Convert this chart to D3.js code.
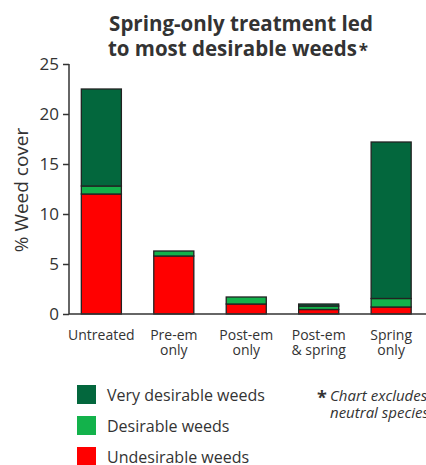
<!DOCTYPE html>
<html>
<head>
<meta charset="utf-8">
<script src="https://cdn.jsdelivr.net/npm/d3@7"></script>
<style>
  body { margin: 0; background: #fff; }
  text { font-family: "Open Sans", sans-serif; fill: #333; }
</style>
</head>
<body>
<div id="chart"></div>
<script>
const width = 426, height = 465;

// data
const categories = ["Untreated", "Pre-em\nonly", "Post-em\nonly", "Post-em\n& spring", "Spring\nonly"];
const undesirable = [12.0, 5.8, 1.0, 0.45, 0.7];
const desirable = [0.8, 0.5, 0.7, 0.35, 0.85];
const veryDesirable = [9.7, 0, 0, 0.2, 15.65];
const yTicks = [0, 5, 10, 15, 20, 25];
const seriesNames = ["Very desirable weeds", "Desirable weeds", "Undesirable weeds"];
const seriesColors = ["#03673d", "#13b24b", "#ff0000"];

const rows = categories.map((c, i) => ({
  cat: c, undesirable: undesirable[i], desirable: desirable[i], very: veryDesirable[i]
}));

const svg = d3.select("#chart").append("svg")
  .attr("width", width)
  .attr("height", height);

const x = d3.scaleBand()
  .domain(categories)
  .range([69, 423.5])
  .paddingInner(0.447)
  .paddingOuter(0.17);

const y = d3.scaleLinear()
  .domain([0, 25])
  .range([314, 64]);

// title
svg.append("text")
  .attr("x", 241)
  .attr("y", 31)
  .attr("text-anchor", "middle")
  .style("font-weight", "bold")
  .style("font-size", "20.5px")
  .text("Spring-only treatment led");
const t2 = svg.append("text")
  .attr("x", 238)
  .attr("y", 56)
  .attr("text-anchor", "middle")
  .style("font-weight", "bold")
  .style("font-size", "20.5px");
t2.append("tspan").text("to most desirable weeds");
t2.append("tspan").style("font-size", "17px").attr("dx", 2).attr("dy", 1).text("*");

// stacked bars
const stack = d3.stack().keys(["undesirable", "desirable", "very"]);
const layers = stack(rows);
const colorOf = { undesirable: "#ff0000", desirable: "#13b24b", very: "#03673d" };

svg.append("g")
  .selectAll("g")
  .data(layers)
  .join("g")
  .attr("fill", d => colorOf[d.key])
  .selectAll("rect")
  .data(d => d.filter(s => s[1] - s[0] > 0))
  .join("rect")
  .attr("x", d => x(d.data.cat))
  .attr("y", d => y(d[1]))
  .attr("width", x.bandwidth())
  .attr("height", d => y(d[0]) - y(d[1]))
  .attr("stroke", "#222")
  .attr("stroke-width", 1.3);

// y axis
const yAxis = svg.append("g")
  .attr("transform", "translate(69,0)")
  .call(d3.axisLeft(y).tickValues(yTicks).tickSize(6).tickPadding(4));
yAxis.select(".domain").attr("stroke", "#333").attr("stroke-width", 1.5).attr("d", "M0,64V314");
yAxis.selectAll(".tick line").attr("stroke", "#333").attr("stroke-width", 1.5);
yAxis.selectAll(".tick text")
  .style("font-size", "17px")
  .style("fill", "#333")
  .style("font-family", "'Open Sans', sans-serif");

// x axis baseline
svg.append("line")
  .attr("x1", 69).attr("x2", width)
  .attr("y1", y(0)).attr("y2", y(0))
  .attr("stroke", "#333")
  .attr("stroke-width", 1.5);

// category labels
svg.append("g")
  .selectAll("text")
  .data(categories)
  .join("text")
  .attr("text-anchor", "middle")
  .attr("x", d => x(d) + x.bandwidth() / 2)
  .attr("y", 340)
  .style("font-size", "14px")
  .each(function(d) {
    const lines = d.split("\n");
    d3.select(this).selectAll("tspan")
      .data(lines)
      .join("tspan")
      .attr("x", x(d) + x.bandwidth() / 2)
      .attr("dy", (l, i) => i === 0 ? 0 : 15)
      .text(l => l);
  });

// y label
svg.append("text")
  .attr("transform", "translate(28,190) rotate(-90)")
  .attr("text-anchor", "middle")
  .style("font-size", "19px")
  .text("% Weed cover");

// legend
const legend = svg.append("g")
  .selectAll("g")
  .data(seriesNames)
  .join("g")
  .attr("transform", (d, i) => `translate(77,${385 + i * 31})`);
legend.append("rect")
  .attr("width", 19).attr("height", 19)
  .attr("fill", (d, i) => seriesColors[i]);
legend.append("text")
  .attr("x", 30).attr("y", 16)
  .style("font-size", "16px")
  .text(d => d);

// footnote
svg.append("text")
  .attr("x", 317).attr("y", 404)
  .style("font-size", "18px")
  .style("font-weight", "bold")
  .text("*");
svg.append("text")
  .attr("x", 330).attr("y", 401)
  .style("font-size", "15px")
  .style("font-style", "italic")
  .text("Chart excludes");
svg.append("text")
  .attr("x", 330).attr("y", 418)
  .style("font-size", "15px")
  .style("font-style", "italic")
  .text("neutral species");
</script>
</body>
</html>
